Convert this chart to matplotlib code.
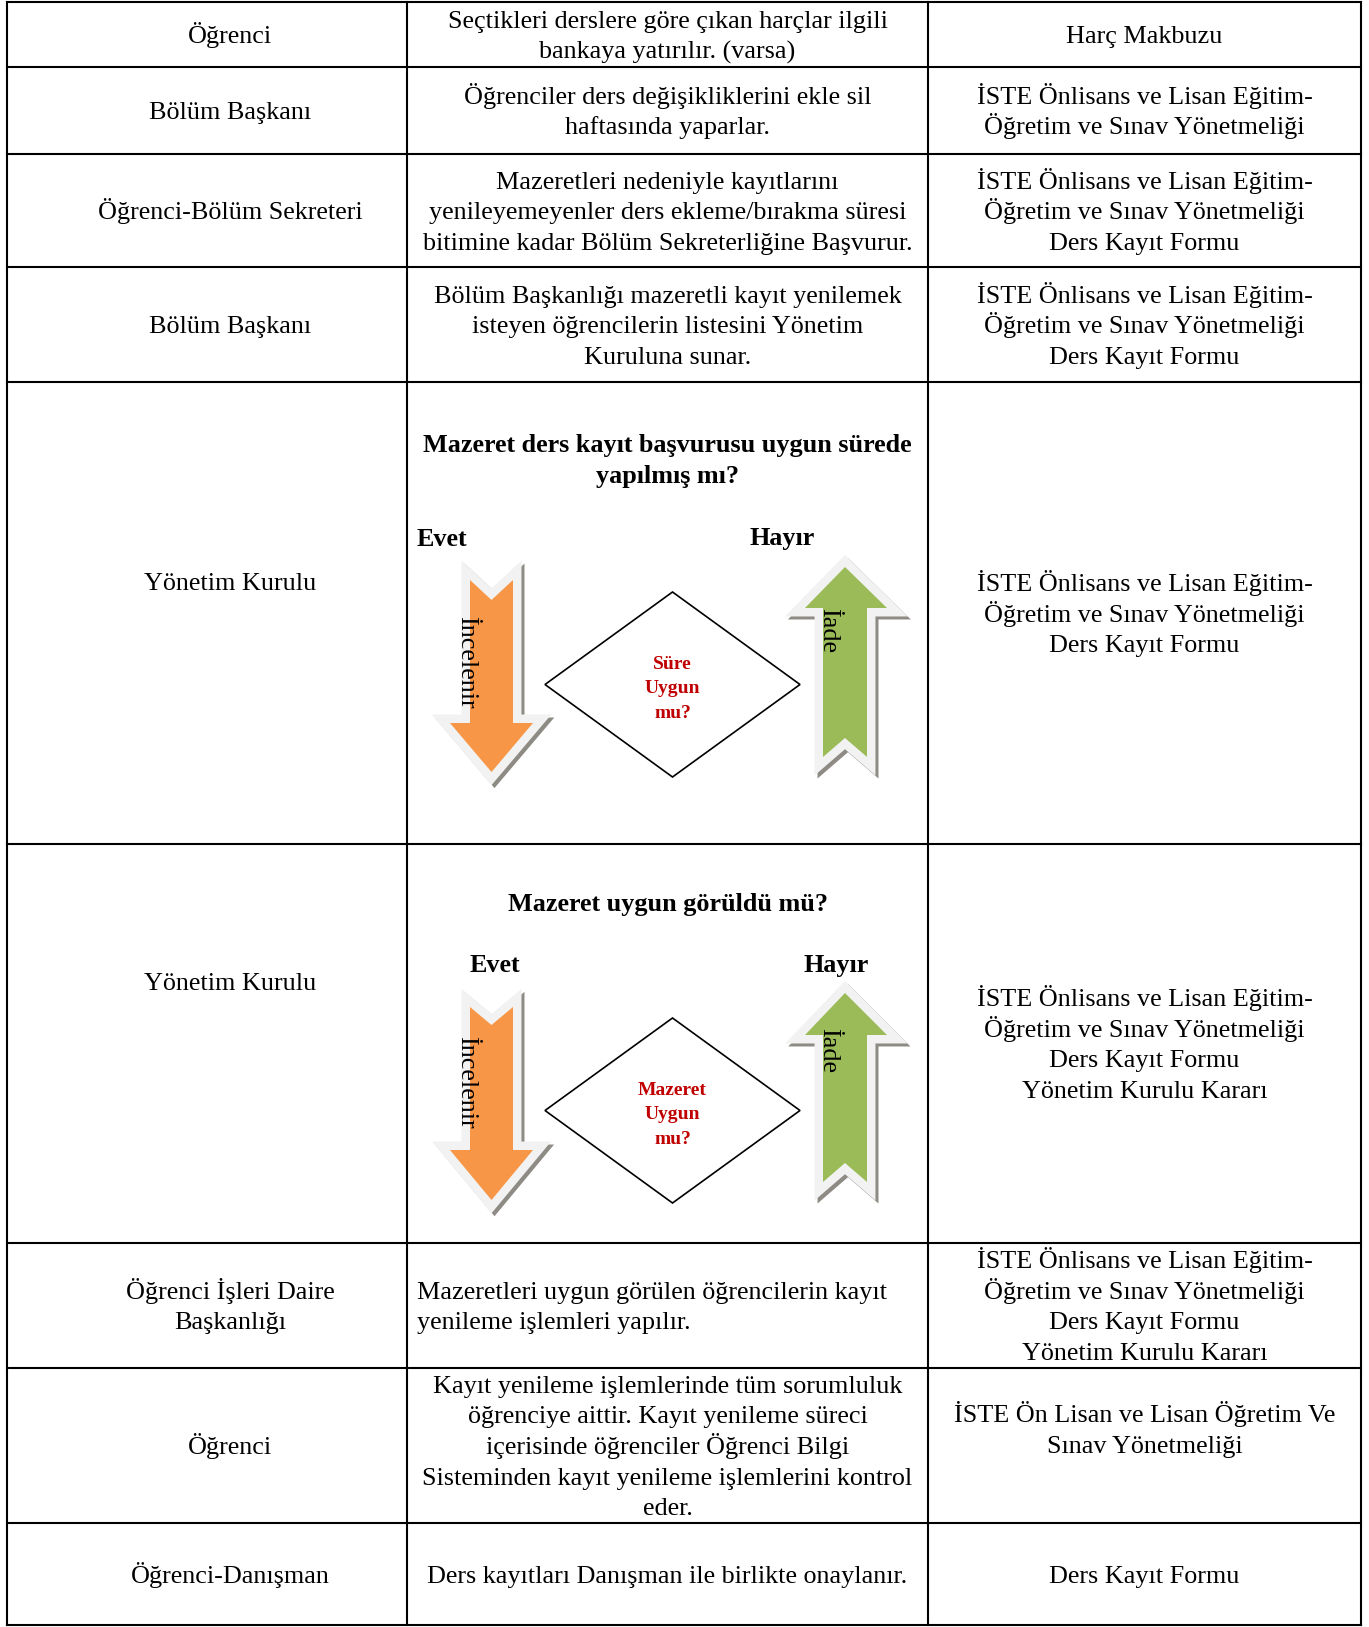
"""Ders kayit is akis tablosu: sorumlu / is adimi / ilgili dokuman."""

import matplotlib
matplotlib.use("Agg")
import matplotlib.pyplot as plt
from matplotlib.patches import Polygon

plt.rcParams["font.family"] = ["Liberation Serif", "DejaVu Serif"]

# --- table content -------------------------------------------------------
ROLES = [
    "Öğrenci",
    "Bölüm Başkanı",
    "Öğrenci-Bölüm Sekreteri",
    "Bölüm Başkanı",
    "Yönetim Kurulu",
    "Yönetim Kurulu",
    "Öğrenci İşleri Daire\nBaşkanlığı",
    "Öğrenci",
    "Öğrenci-Danışman",
]
STEPS = [
    "Seçtikleri derslere göre çıkan harçlar ilgili\nbankaya yatırılır. (varsa)",
    "Öğrenciler ders değişikliklerini ekle sil\nhaftasında yaparlar.",
    "Mazeretleri nedeniyle kayıtlarını\nyenileyemeyenler ders ekleme/bırakma süresi\n"
    "bitimine kadar Bölüm Sekreterliğine Başvurur.",
    "Bölüm Başkanlığı mazeretli kayıt yenilemek\nisteyen öğrencilerin listesini Yönetim\n"
    "Kuruluna sunar.",
    None,
    None,
    "Mazeretleri uygun görülen öğrencilerin kayıt\nyenileme işlemleri yapılır.",
    "Kayıt yenileme işlemlerinde tüm sorumluluk\nöğrenciye aittir. Kayıt yenileme süreci\n"
    "içerisinde öğrenciler Öğrenci Bilgi\nSisteminden kayıt yenileme işlemlerini kontrol\neder.",
    "Ders kayıtları Danışman ile birlikte onaylanır.",
]
REG = "İSTE Önlisans ve Lisan Eğitim-\nÖğretim ve Sınav Yönetmeliği"
DOCUMENTS = [
    "Harç Makbuzu",
    REG,
    REG + "\nDers Kayıt Formu",
    REG + "\nDers Kayıt Formu",
    REG + "\nDers Kayıt Formu",
    REG + "\nDers Kayıt Formu\nYönetim Kurulu Kararı",
    REG + "\nDers Kayıt Formu\nYönetim Kurulu Kararı",
    "İSTE Ön Lisan ve Lisan Öğretim Ve\nSınav Yönetmeliği",
    "Ders Kayıt Formu",
]
# decision rows (5 and 6)
DECISION_TITLES = ["Mazeret ders kayıt başvurusu uygun sürede\nyapılmış mı?",
                   "Mazeret uygun görüldü mü?"]
DECISION_LABELS = ["Süre\nUygun\nmu?", "Mazeret\nUygun\nmu?"]
YES_NO = ("Evet", "Hayır")
ARROW_TEXT = ("İncelenir", "İade")

# --- layout (pixels) -----------------------------------------------------
W, H = 1369, 1627
COL_X = [7, 407, 928, 1361]
ROW_Y = [2, 67, 154, 267, 382, 844, 1243, 1368, 1523, 1625]
ROLE_X = 230          # first column text sits right of the cell centre
FS = 18.8
LINE_H = 30.5
BASE_OFF = 8.5
# cells whose text is not vertically centred in its row: (row, col) -> centre y
CELL_Y = {(4, 0): 581, (5, 0): 981, (7, 2): 1429}

ORANGE = "#F79646"
GREEN = "#9BBB59"
RIM = "#F2F2F2"
SHADOW = "#8E8A84"
RED = "#C00000"
RIM_LW = 12.2

fig = plt.figure(figsize=(W / 100, H / 100), dpi=100)
ax = fig.add_axes([0, 0, 1, 1])
ax.set_xlim(0, W)
ax.set_ylim(H, 0)
ax.axis("off")


def lines_at(x, yc, text, ha="center", size=FS, step=LINE_H, **kw):
    parts = text.split("\n")
    n = len(parts)
    for i, line in enumerate(parts):
        y = yc + (i - (n - 1) / 2) * step
        ax.text(x, y + BASE_OFF * size / FS, line, ha=ha, va="baseline",
                fontsize=size, **kw)


# grid
for y in ROW_Y:
    ax.plot([COL_X[0], COL_X[-1]], [y, y], color="black", lw=1.5, solid_capstyle="projecting")
for x in COL_X:
    ax.plot([x, x], [ROW_Y[0], ROW_Y[-1]], color="black", lw=1.5, solid_capstyle="projecting")

# cell text
for r in range(len(ROLES)):
    yc = (ROW_Y[r] + ROW_Y[r + 1]) / 2
    cx = [(COL_X[c] + COL_X[c + 1]) / 2 for c in range(3)]
    lines_at(ROLE_X, CELL_Y.get((r, 0), yc), ROLES[r])
    if STEPS[r] is not None:
        if r == 6:
            lines_at(COL_X[1] + 10, CELL_Y.get((r, 1), yc), STEPS[r], ha="left")
        else:
            lines_at(cx[1], CELL_Y.get((r, 1), yc), STEPS[r])
    lines_at(cx[2], CELL_Y.get((r, 2), yc), DOCUMENTS[r])


def block_arrow(pts, face):
    shadow = [(x + 3, y + 3) for x, y in pts]
    ax.add_patch(Polygon(shadow, closed=True, facecolor=SHADOW, edgecolor=SHADOW,
                         lw=RIM_LW, joinstyle="miter", zorder=1))
    ax.add_patch(Polygon(pts, closed=True, facecolor=RIM, edgecolor=RIM,
                         lw=RIM_LW, joinstyle="miter", zorder=2))
    ax.add_patch(Polygon(pts, closed=True, facecolor=face, edgecolor="none", zorder=3))


def down_arrow(xl, xr, top, notch, base, tip, hl, hr):
    cx = (xl + xr) / 2
    return [(xl, top), (cx, notch), (xr, top), (xr, base), (hr, base),
            (cx, tip), (hl, base), (xl, base)]


def up_arrow(xl, xr, bottom, notch, base, tip, hl, hr):
    cx = (xl + xr) / 2
    return [(cx, tip), (hr, base), (xr, base), (xr, bottom), (cx, notch),
            (xl, bottom), (xl, base), (hl, base)]


# per decision row: title y, yes/no (x, y), arrows, diamond, texts
DIAG = [
    dict(title_y=459, yes=(417, 537), no=(750, 537),
         down=(470, 513, 580, 600, 723, 772, 450, 533),
         up=(823, 867, 757, 738, 608, 567, 805, 887),
         diamond=(545, 800, 592, 777), label_y=687,
         inc=(460, 662), iade=(822, 630)),
    dict(title_y=902, yes=(470, 963), no=(803, 963),
         down=(470, 513, 1007, 1025, 1150, 1200, 450, 533),
         up=(823, 867, 1182, 1163, 1035, 993, 805, 887),
         diamond=(545, 800, 1018, 1203), label_y=1113,
         inc=(460, 1082), iade=(822, 1050)),
]

for k, d in enumerate(DIAG):
    cx = (COL_X[1] + COL_X[2]) / 2
    lines_at(cx, d["title_y"], DECISION_TITLES[k], fontweight="bold")
    lines_at(d["yes"][0], d["yes"][1], YES_NO[0], ha="left", fontweight="bold")
    lines_at(d["no"][0], d["no"][1], YES_NO[1], ha="left", fontweight="bold")

    block_arrow(down_arrow(*d["down"]), ORANGE)
    block_arrow(up_arrow(*d["up"]), GREEN)

    x0, x1, y0, y1 = d["diamond"]
    mx, my = (x0 + x1) / 2, (y0 + y1) / 2
    ax.add_patch(Polygon([(x0, my), (mx, y0), (x1, my), (mx, y1)], closed=True,
                         facecolor="white", edgecolor="black", lw=1.2, zorder=4))
    lines_at(mx, d["label_y"], DECISION_LABELS[k], size=14, step=24.5,
             color=RED, fontweight="bold", zorder=5)

    ax.text(d["inc"][0], d["inc"][1], ARROW_TEXT[0], rotation=-90, rotation_mode="anchor",
            ha="center", va="baseline", fontsize=FS, zorder=5)
    ax.text(d["iade"][0], d["iade"][1], ARROW_TEXT[1], rotation=-90, rotation_mode="anchor",
            ha="center", va="baseline", fontsize=FS, zorder=5)

fig.savefig("out.png", dpi=100)
